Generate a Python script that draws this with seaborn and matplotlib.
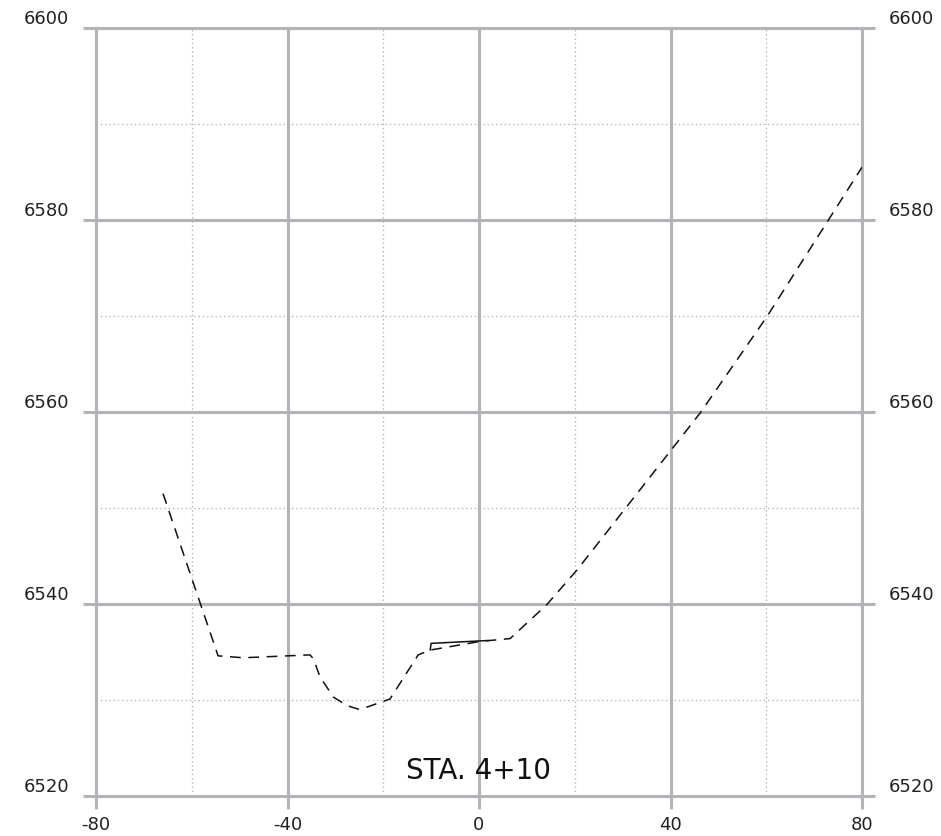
import numpy as np
import pandas as pd
import seaborn as sns
import matplotlib
matplotlib.use("Agg")
import matplotlib.pyplot as plt

# ground profile at station 4+10 (offset, elevation)
offset = [-66.0, -54.5, -49.2, -35.3, -34.6, -33.2, -30.4, -27.5, -24.9, -18.6, -12.7, -10.2, 0.2, 6.5, 14.1, 20.4, 30.8, 46.2, 60.1, 80.0]
elev = [6551.5, 6534.6, 6534.4, 6534.7, 6534.3, 6532.4, 6530.3, 6529.4, 6529.0, 6530.1, 6534.7, 6535.2, 6536.1, 6536.4, 6539.9, 6543.5, 6550.1, 6559.9, 6569.9, 6585.5]

# short solid segment near centerline
solid_off = [-10.2, -10.0, 2.0]
solid_elev = [6535.2, 6535.9, 6536.2]

station = "STA. 4+10"
x_major = [-80, -40, 0, 40, 80]
y_major = [6520, 6540, 6560, 6580, 6600]

sns.set_style("white")
plt.rcParams['font.family'] = ['DejaVu Sans']
plt.rcParams['axes.unicode_minus'] = False

grid_c = "#b4b4b8"
fig = plt.figure(figsize=(9.41, 8.36), dpi=100)
ax = fig.add_axes([96/941, 1 - 796/836, 766/941, 768/836])

df = pd.DataFrame({"offset": offset, "elev": elev})
sns.lineplot(data=df, x="offset", y="elev", sort=False, estimator=None, ax=ax,
             color="#111111", linewidth=1.1, zorder=3)
ax.lines[-1].set_dashes((7, 5))
df2 = pd.DataFrame({"offset": solid_off, "elev": solid_elev})
sns.lineplot(data=df2, x="offset", y="elev", sort=False, estimator=None, ax=ax,
             color="#111111", linewidth=1.1, zorder=3)

ax.set_xlim(-80, 80)
ax.set_ylim(6520, 6600)
ax.set_xticks(x_major)
ax.set_yticks(y_major)
ax.set_xticks([-60, -20, 20, 60], minor=True)
ax.set_yticks([6530, 6550, 6570, 6590], minor=True)
ax.grid(which="major", color=grid_c, linewidth=2.2, linestyle="-", zorder=1)
ax.grid(which="minor", color=grid_c, linewidth=0.9, linestyle=(0, (1.2, 2.2)), zorder=1)
ax.set_axisbelow(True)
for s in ax.spines.values():
    s.set_color(grid_c)
    s.set_linewidth(2.2)

ax.tick_params(which="major", direction="out", length=9.5, width=2.2, color=grid_c,
               labelsize=13, labelcolor="#222222", left=True, right=True, bottom=True,
               labelleft=True, labelright=True)
ax.tick_params(axis="y", which="major", pad=10)
ax.tick_params(axis="x", which="major", pad=5)
ax.tick_params(which="minor", length=0)
ax.set_xlabel("")
ax.set_ylabel("")
for lbl in ax.get_yticklabels(which="both"):
    lbl.set_va("bottom")

ax.text(0, 6522.6, station, ha="center", va="center", fontsize=20, color="#111111")

plt.savefig("out.png", dpi=100)
